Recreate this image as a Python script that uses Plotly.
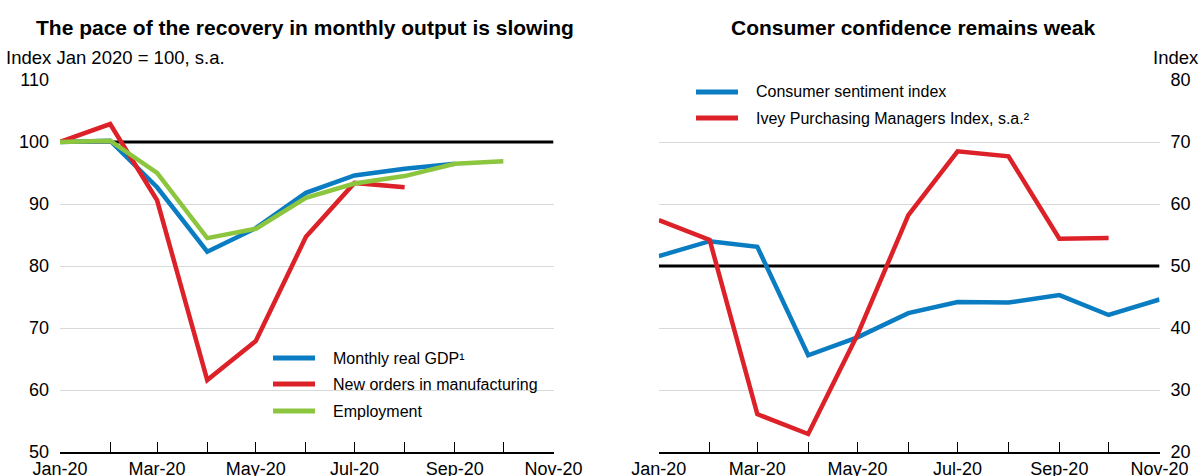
import plotly.graph_objects as go

months = ["2020-01-01", "2020-02-01", "2020-03-01", "2020-04-01", "2020-05-01",
          "2020-06-01", "2020-07-01", "2020-08-01", "2020-09-01", "2020-10-01",
          "2020-11-01"]

gdp = [100.0, 100.2, 92.7, 82.3, 86.1, 91.8, 94.6, 95.7, 96.5]
new_orders = [100.0, 102.9, 90.6, 61.6, 67.9, 84.7, 93.4, 92.7]
employment = [100.0, 100.2, 95.0, 84.5, 86.0, 91.0, 93.3, 94.5, 96.5, 96.9]

sentiment = [51.6, 54.0, 53.1, 35.6, 38.5, 42.4, 44.2, 44.1, 45.3, 42.1, 44.6]
ivey = [57.4, 54.2, 26.1, 22.9, 38.9, 58.2, 68.5, 67.7, 54.4, 54.5]

left_names = ["Monthly real GDP¹", "New orders in manufacturing", "Employment"]
right_names = ["Consumer sentiment index", "Ivey Purchasing Managers Index, s.a.²"]

BLUE = "#0a7cc1"
RED = "#dc2228"
GREEN = "#8cc63e"
FONT = "Liberation Sans, Arial, sans-serif"
W, H = 1203, 476


def px_x(v):
    return v / W


def px_y(v):
    return 1 - v / H


fig = go.Figure()


def add(series, name, color, xa, ya):
    fig.add_trace(go.Scatter(
        x=months[:len(series)], y=series, name=name, mode="lines",
        line=dict(color=color, width=4.5), xaxis=xa, yaxis=ya,
        showlegend=False,
        hovertemplate="%{x|%b-%y}: %{y}<extra>" + name + "</extra>",
    ))


add(gdp, left_names[0], BLUE, "x", "y")
add(new_orders, left_names[1], RED, "x", "y")
add(employment, left_names[2], GREEN, "x", "y")
add(sentiment, right_names[0], BLUE, "x2", "y2")
add(ivey, right_names[1], RED, "x2", "y2")

shapes = [
    dict(type="line", xref="x", yref="y", x0=months[0], x1=months[-1], y0=100, y1=100,
         line=dict(color="black", width=3), layer="between"),
    dict(type="line", xref="x2", yref="y2", x0=months[0], x1=months[-1], y0=50, y1=50,
         line=dict(color="black", width=3), layer="between"),
]
annotations = []


def legend_item(x_line0, x_line1, x_text, y, color, text):
    shapes.append(dict(type="line", xref="paper", yref="paper",
                       x0=px_x(x_line0), x1=px_x(x_line1), y0=px_y(y), y1=px_y(y),
                       line=dict(color=color, width=5)))
    annotations.append(dict(text=text, x=px_x(x_text), y=px_y(y), xref="paper", yref="paper",
                            showarrow=False, xanchor="left", yanchor="middle",
                            font=dict(size=16, color="black")))


for yy, col, nm in zip([358, 384, 411], [BLUE, RED, GREEN], left_names):
    legend_item(273, 315, 331, yy, col, nm)
for yy, col, nm in zip([92, 118], [BLUE, RED], right_names):
    legend_item(696, 738, 754, yy, col, nm)

annotations += [
    dict(text="<b>The pace of the recovery in monthly output is slowing</b>",
         x=px_x(304.5), y=px_y(27), xref="paper", yref="paper",
         showarrow=False, font=dict(size=21), xanchor="center", yanchor="middle"),
    dict(text="<b>Consumer confidence remains weak</b>",
         x=px_x(913), y=px_y(27), xref="paper", yref="paper",
         showarrow=False, font=dict(size=21), xanchor="center", yanchor="middle"),
    dict(text="Index Jan 2020 = 100, s.a.", x=px_x(4), y=px_y(57),
         xref="paper", yref="paper", showarrow=False, font=dict(size=18.5),
         xanchor="left", yanchor="middle"),
    dict(text="Index", x=px_x(1201), y=px_y(57),
         xref="paper", yref="paper", showarrow=False, font=dict(size=18.5),
         xanchor="right", yanchor="middle"),
]

xcommon = dict(
    type="date", range=[months[0], months[-1]],
    tick0=months[0], dtick="M2", tickformat="%b-%y",
    ticks="inside", ticklen=10, tickcolor="black", tickwidth=1,
    minor=dict(dtick="M1", ticks="inside", ticklen=10, tickcolor="black", tickwidth=1,
               showgrid=False),
    showline=True, linecolor="black", linewidth=1.5, showgrid=False,
    zeroline=False, tickfont=dict(size=18, color="black", family=FONT),
    fixedrange=True, automargin=False, ticklabelstandoff=0,
)
ycommon = dict(
    dtick=10, showgrid=True, gridcolor="#d9d9d9", gridwidth=1, zeroline=False,
    showline=False, ticks="", tickfont=dict(size=18, color="black", family=FONT),
    fixedrange=True, automargin=False, ticklabelstandoff=10,
    domain=[1 - 452 / H, 1 - 80 / H],
)

fig.update_layout(
    width=W, height=H,
    paper_bgcolor="white", plot_bgcolor="white",
    margin=dict(l=0, r=0, t=0, b=0, pad=0),
    font=dict(family=FONT, color="black"),
    showlegend=False,
    xaxis=dict(domain=[60 / W, 553.5 / W], anchor="y", **xcommon),
    xaxis2=dict(domain=[658.8 / W, 1159.5 / W], anchor="y2", **xcommon),
    yaxis=dict(range=[50, 110], anchor="x", **ycommon),
    yaxis2=dict(range=[20, 80], side="right", anchor="x2", **ycommon),
    shapes=shapes,
    annotations=annotations,
)

fig.write_html(
    "out.html",
    config={"displayModeBar": False},
    post_script="document.body.style.margin='0';document.body.style.overflow='hidden';",
)
